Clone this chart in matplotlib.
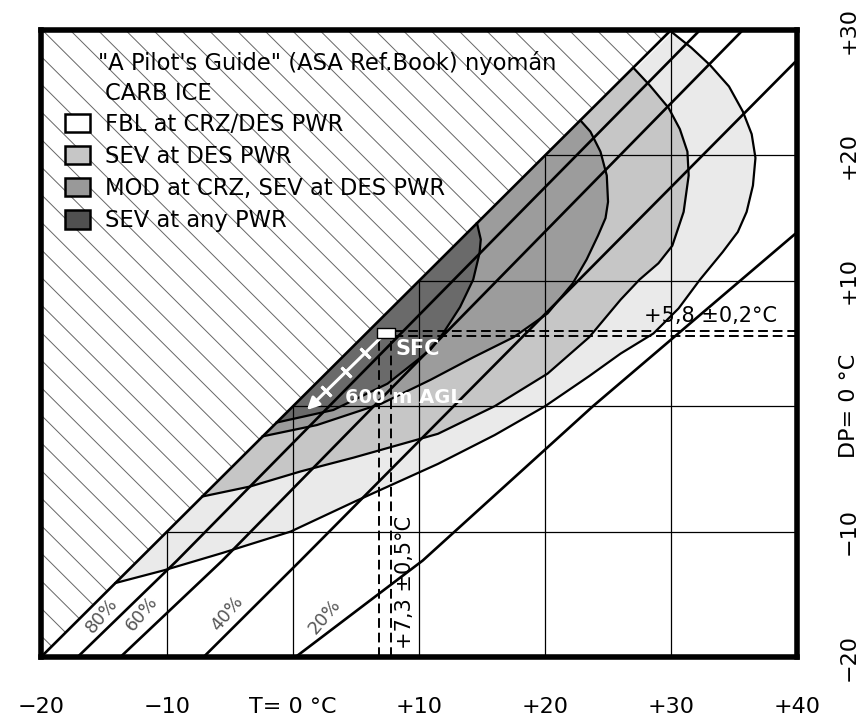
import numpy as np
import matplotlib.pyplot as plt
from matplotlib.patches import Polygon, Patch

plt.rcParams['font.family'] = ['DejaVu Sans']

# axes: temperature (x) and dew point (y), deg C
t_lim = (-20, 40)
dp_lim = (-20, 30)
t_ticks = [-20, -10, 0, 10, 20, 30, 40]
t_labels = ['−20', '−10', 'T= 0 °C', '+10', '+20', '+30', '+40']
dp_ticks = [-20, -10, 0, 10, 20, 30]
dp_labels = ['−20', '−10', 'DP= 0 °C', '+10', '+20', '+30']

# relative humidity lines, points (T, DP)
rh_names = ['80%', '60%', '40%', '20%']
rh_t = [[-17.1, -9.2, 32.3],
        [-13.7, -5.6, 35.7],
        [-7.1, 0.6, 39.8],
        [0.2, 10.3, 23.8, 39.8]]
rh_dp = [[-20, -12.3, 30],
         [-20, -12.3, 30],
         [-20, -12.3, 27.4],
         [-20, -12.3, 0, 13.7]]
rh_label_t = [-15.2, -12.0, -5.2, 2.5]
rh_label_dp = [-16.7, -16.5, -16.5, -16.8]

# icing zones: outline from the 100% line round to the 100% line
zone_names = ['FBL at CRZ/DES PWR', 'SEV at DES PWR',
              'MOD at CRZ, SEV at DES PWR', 'SEV at any PWR']
zone_colors = ['#eaeaea', '#c6c6c6', '#9c9c9c', '#6a6a6a']
legend_colors = ['white', '#c6c6c6', '#999999', '#505050']
fbl_t = [-14.1, -10.3, -5.6, -0.2, 4.9, 11.5, 16, 20, 23.5, 26, 28.6, 30.6,
         32.3, 34.1, 35.3, 36.0, 36.5, 36.7, 36.4, 35.7, 34.6, 33.1, 31.6, 30.1]
fbl_dp = [-14.1, -13.1, -11.7, -10.0, -7.6, -4.6, -2.3, 0, 2.4, 4.2, 5.8, 7.8,
          10.1, 12.3, 13.9, 15.5, 17.6, 19.8, 21.7, 23.5, 25.5, 27.2, 28.6, 29.8]
sev_des_t = [-7.2, -3.4, 0.6, 4.8, 11.5, 16, 20.2, 23.5, 26, 27.5, 29, 30.1,
             31.0, 31.4, 31.3, 30.7, 29.8, 28.3, 27.0]
sev_des_dp = [-7.2, -6.4, -5.2, -4.1, -2.2, 0, 2.6, 5.5, 8.5, 10.1, 11.4, 12.8,
              15.5, 18.4, 20.3, 22.1, 23.8, 25.6, 27.0]
mod_t = [-2.4, 1.9, 7, 10.9, 14.3, 17.5, 20.2, 22.2, 23.3, 24.2, 24.8, 25.0,
         24.9, 24.4, 23.6, 22.8]
mod_dp = [-2.4, -1.5, 0.2, 2.1, 3.9, 5.5, 7.4, 9.8, 11.7, 13.6, 15, 16.3,
          18.4, 20.3, 21.9, 22.8]
sev_any_t = [-1.3, 3.2, 7.5, 10.9, 11.9, 13.25, 14.3, 14.8, 14.9, 14.6]
sev_any_dp = [-1.3, -0.3, 1.8, 4.5, 5.8, 7.9, 10.1, 12.2, 13.3, 14.6]
zones_t = [fbl_t, sev_des_t, mod_t, sev_any_t]
zones_dp = [fbl_dp, sev_des_dp, mod_dp, sev_any_dp]

# measured point and its tolerance
sfc_t, sfc_dp = 7.3, 5.8
t_tol, dp_tol = 0.5, 0.2
agl_t, agl_dp = 1.1, -0.3

fig = plt.figure(figsize=(8.64, 7.22), dpi=100)
ax = fig.add_axes([0.0475, 0.09, 0.875, 0.8684])
ax.set_xlim(*t_lim)
ax.set_ylim(*dp_lim)

# zones
for zt, zd, c in zip(zones_t, zones_dp, zone_colors):
    ax.add_patch(Polygon(np.column_stack([zt, zd]), closed=True, fc=c, ec='none', zorder=1))
    ax.plot(zt, zd, color='black', lw=1.6, zorder=3)

# hatch above the saturation line
tri = Polygon([(t_lim[0], dp_lim[0]), (dp_lim[1], dp_lim[1]), (t_lim[0], dp_lim[1])],
              closed=True, fc='none', ec='none')
ax.add_patch(tri)
for c in np.arange(10.1 - 2.2 * 23, 60, 2.2):
    ln, = ax.plot([-30, 50], [c + 30, c - 50], color='#666666', lw=0.7, zorder=1)
    ln.set_clip_path(tri)

# grid only where T >= DP
for d in dp_ticks[1:-1]:
    ax.plot([d, t_lim[1]], [d, d], color='black', lw=0.9, zorder=2)
for t in t_ticks[1:-1]:
    ax.plot([t, t], [dp_lim[0], min(t, dp_lim[1])], color='black', lw=0.9, zorder=2)

# 100% line and RH lines
ax.plot([t_lim[0], dp_lim[1]], [dp_lim[0], dp_lim[1]], color='black', lw=1.9, zorder=3)
for xs, ys in zip(rh_t, rh_dp):
    ax.plot(xs, ys, color='black', lw=1.9, zorder=3)
for name, x, y in zip(rh_names, rh_label_t, rh_label_dp):
    ax.text(x, y, name, color='#555555', fontsize=13, rotation=50,
            ha='center', va='center', zorder=4)

# tolerance lines
for t in (sfc_t - t_tol, sfc_t + t_tol):
    ax.plot([t, t], [dp_lim[0], sfc_dp + dp_tol], color='black', lw=1.4,
            ls=(0, (5, 2.5)), zorder=4)
for d in (sfc_dp - dp_tol, sfc_dp + dp_tol):
    ax.plot([sfc_t - t_tol, t_lim[1]], [d, d], color='black', lw=1.4,
            ls=(0, (5, 2.5)), zorder=4)
ax.text(38.4, 6.4, '+5,8 ±0,2°C', fontsize=15, ha='right', va='bottom', zorder=6)
ax.text(8.9, -19.4, '+7,3 ±0,5°C', fontsize=15, rotation=90, ha='center',
        va='bottom', zorder=6)

# profile arrow SFC -> 600 m AGL
ax.annotate('', xy=(agl_t, agl_dp), xytext=(sfc_t, sfc_dp),
            arrowprops=dict(arrowstyle='-|>', color='white', lw=2.2,
                            mutation_scale=18, shrinkA=0, shrinkB=0), zorder=5)
for f in (0.25, 0.5, 0.75):
    ax.plot(sfc_t + f * (agl_t - sfc_t), sfc_dp + f * (agl_dp - sfc_dp),
            marker=(2, 2, 45), ms=10, mew=2, color='white', zorder=5)
rect = [(-1, -0.5), (1, -0.5), (1, 0.5), (-1, 0.5), (-1, -0.5)]
ax.plot(sfc_t + 0.1, sfc_dp, marker=rect, ms=13, mfc='white', mec='black', mew=1, zorder=6)
ax.text(8.1, 4.6, 'SFC', color='white', fontsize=15, fontweight='bold',
        ha='left', va='center', zorder=6)
ax.text(4.1, 0.7, '600 m AGL', color='white', fontsize=14, fontweight='bold',
        ha='left', va='center', zorder=6)

# legend
ax.text(0.0754, 0.947, '"A Pilot\'s Guide" (ASA Ref.Book) nyomán', transform=ax.transAxes,
        fontsize=16.3, ha='left', va='center', zorder=6)
ax.text(0.0847, 0.8995, 'CARB ICE', transform=ax.transAxes,
        fontsize=16.3, ha='left', va='center', zorder=6)
handles = [Patch(fc=c, ec='black', lw=1.8, label=n) for c, n in zip(legend_colors, zone_names)]
ax.legend(handles=handles, loc='upper left', bbox_to_anchor=(0.0317, 0.868),
          frameon=False, fontsize=16.3, handlelength=1.1, handleheight=0.9,
          handletextpad=0.65, labelspacing=0.4, borderpad=0, borderaxespad=0)

# ticks
ax.set_xticks(t_ticks, t_labels)
ax.yaxis.tick_right()
ax.set_yticks(dp_ticks, dp_labels)
for lab in ax.get_yticklabels():
    lab.set_rotation(90)
    lab.set_va('center')
ax.tick_params(axis='both', length=0, labelsize=16)
ax.tick_params(axis='x', pad=29)
ax.tick_params(axis='y', pad=30)
for s in ax.spines.values():
    s.set_linewidth(4)
    s.set_zorder(7)

fig.savefig('out.png', dpi=100)
